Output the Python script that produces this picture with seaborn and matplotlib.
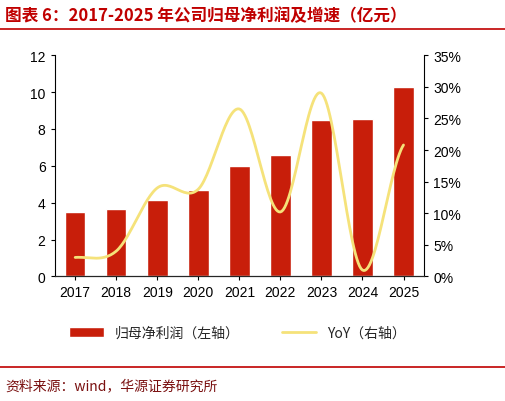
import matplotlib
matplotlib.use("Agg")
import matplotlib.pyplot as plt
import seaborn as sns
import numpy as np
import pandas as pd

years = ["2017","2018","2019","2020","2021","2022","2023","2024","2025"]
profit = [3.5, 3.65, 4.15, 4.7, 6.0, 6.6, 8.5, 8.55, 10.3]
yoy = [3.0, 4.0, 14.0, 13.8, 26.5, 10.2, 29.0, 1.0, 20.8]

sns.set_style("white")
plt.rcParams['font.family'] = ['Noto Sans CJK SC', 'DejaVu Sans']
red = "#C00000"

fig = plt.figure(figsize=(5.06, 4.02), dpi=100)
ax = fig.add_axes([0.108, 0.31, 0.73, 0.55])
df = pd.DataFrame({"year": years, "profit": profit})
sns.barplot(data=df, x="year", y="profit", color="#C81E0A", saturation=1, width=0.5, ax=ax, label="归母净利润（左轴）")
ax.set_ylim(0, 12)
ax.set_yticks(range(0, 13, 2))
ax.set_xlabel(""); ax.set_ylabel("")
for s in ["top", "right"]:
    ax.spines[s].set_visible(False)
ax.spines["left"].set_color("black"); ax.spines["bottom"].set_color("black")
ax.tick_params(axis="both", labelsize=10, length=3, left=True, bottom=True, colors="black")

ax2 = ax.twinx()
x = np.arange(len(yoy)); y = np.array(yoy)
xs, ys = [], []
P = np.concatenate([[y[0]], y, [y[-1]]]); X = np.concatenate([[x[0]-1], x, [x[-1]+1]])
for i in range(1, len(X)-2):
    t = np.linspace(0, 1, 30)
    for arr, out in ((X, xs), (P, ys)):
        p0, p1, p2, p3 = arr[i-1], arr[i], arr[i+1], arr[i+2]
        out.extend(0.5*((2*p1) + (-p0+p2)*t + (2*p0-5*p1+4*p2-p3)*t**2 + (-p0+3*p1-3*p2+p3)*t**3))
sns.lineplot(x=xs, y=ys, ax=ax2, color="#F5E27A", lw=2, label="YoY（右轴）", sort=False)
ax2.set_ylim(0, 35)
ax2.set_yticks(range(0, 36, 5))
ax2.set_yticklabels([f"{v}%" for v in range(0, 36, 5)])
for s in ["top", "left"]:
    ax2.spines[s].set_visible(False)
ax2.spines["right"].set_color("black")
ax2.tick_params(axis="y", labelsize=10, length=3, right=True, colors="black")
ax.set_xlim(-0.5, 8.5)

h1, l1 = ax.get_legend_handles_labels()
h2, l2 = ax2.get_legend_handles_labels()
if ax.get_legend() is not None:
    ax.get_legend().remove()
if ax2.get_legend() is not None:
    ax2.get_legend().remove()
for lab in ax.get_xticklabels() + ax.get_yticklabels() + ax2.get_yticklabels():
    lab.set_fontfamily("Liberation Sans")
fig.legend(h1+h2, l1+l2, loc="center", bbox_to_anchor=(0.47, 0.17), ncol=2, frameon=False, fontsize=10, columnspacing=3, handlelength=2.5)

fig.text(0.01, 0.96, "图表 6：2017-2025 年公司归母净利润及增速（亿元）", color=red, fontsize=12, fontweight="bold", va="center")
fig.add_artist(plt.Line2D([0.0, 1.0], [0.925, 0.925], color=red, lw=1.2))
fig.add_artist(plt.Line2D([0.0, 1.0], [0.085, 0.085], color=red, lw=1.2))
fig.text(0.01, 0.04, "资料来源：wind，华源证券研究所", color="#7a1010", fontsize=10, va="center")
fig.savefig("out.png", dpi=100)
